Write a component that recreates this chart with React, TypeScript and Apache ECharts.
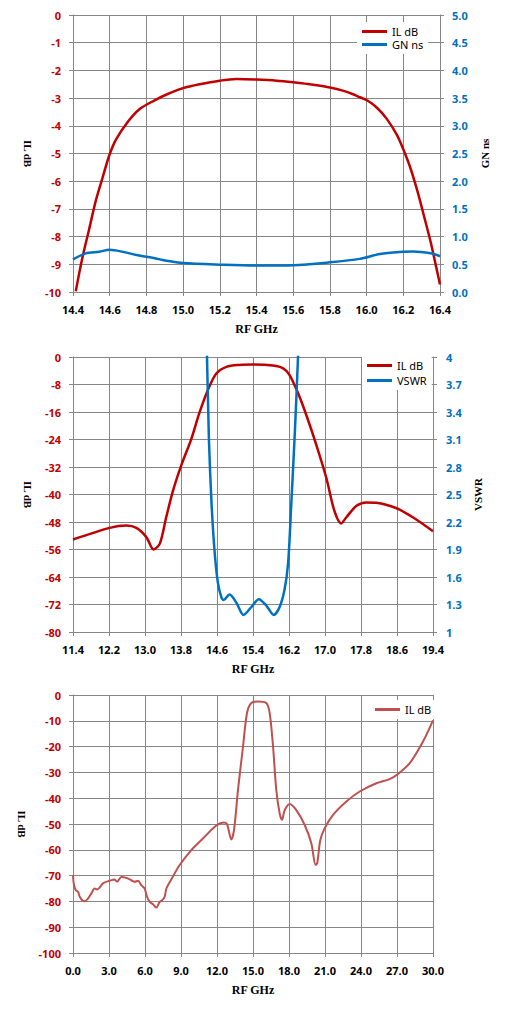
import React, { useEffect, useRef } from "react";
import * as echarts from "echarts";

// ---------- Chart 1 (passband zoom) ----------
const C1_IL_X = [14.415, 14.45, 14.487, 14.524, 14.56, 14.597, 14.634, 14.698, 14.762, 14.845, 14.91, 15.0, 15.09, 15.2, 15.29, 15.4, 15.51, 15.6, 15.71, 15.8, 15.87, 15.93, 15.963, 16.0, 16.055, 16.11, 16.165, 16.2, 16.24, 16.277, 16.314, 16.35, 16.377, 16.4];
const C1_IL_Y = [-9.97, -8.8, -7.76, -6.71, -5.9, -5.08, -4.5, -3.86, -3.4, -3.08, -2.87, -2.64, -2.5, -2.37, -2.31, -2.33, -2.37, -2.43, -2.52, -2.62, -2.73, -2.87, -2.97, -3.07, -3.34, -3.75, -4.33, -4.85, -5.55, -6.36, -7.29, -8.22, -9.03, -9.73];
const C1_GN_X = [14.4, 14.47, 14.543, 14.6, 14.67, 14.745, 14.845, 14.91, 15.0, 15.2, 15.4, 15.6, 15.8, 15.963, 16.073, 16.2, 16.253, 16.35, 16.4];
const C1_GN_Y = [0.588, 0.698, 0.727, 0.762, 0.727, 0.668, 0.61, 0.564, 0.523, 0.494, 0.477, 0.483, 0.535, 0.598, 0.686, 0.727, 0.733, 0.698, 0.646];

// ---------- Chart 2 (wide band) ----------
const C2_X_TICKS = [11.4, 12.2, 13.0, 13.8, 14.6, 15.4, 16.2, 17.0, 17.8, 18.6, 19.4];
const C2_VSWR_TICKS = [1, 1.3, 1.6, 1.9, 2.2, 2.5, 2.8, 3.1, 3.4, 3.7, 4];
const C2_IL_X = [11.4, 12.215, 12.585, 12.81, 13.03, 13.19, 13.33, 13.47, 13.62, 13.81, 14.03, 14.21, 14.4, 14.585, 14.81, 15.1, 15.4, 15.84, 16.07, 16.21, 16.4, 16.59, 16.81, 17.03, 17.21, 17.36, 17.47, 17.7, 17.92, 18.14, 18.59, 18.96, 19.4];
const C2_IL_Y = [-53.1, -49.7, -49.0, -49.7, -52.4, -56.0, -54.3, -46.7, -39.0, -31.4, -23.8, -16.2, -9.5, -4.8, -2.86, -2.3, -2.2, -2.5, -3.3, -5.2, -10.5, -17.1, -25.7, -35.2, -44.8, -48.4, -46.7, -43.3, -42.3, -42.4, -44.0, -46.7, -50.7];
const C2_VSWR_X = [14.34, 14.378, 14.42, 14.48, 14.55, 14.62, 14.70, 14.75, 14.88, 15.03, 15.19, 15.36, 15.53, 15.70, 15.86, 15.99, 16.10, 16.18, 16.25, 16.33, 16.40, 16.44];
const C2_VSWR_Y = [4.6, 4.0, 3.107, 2.39, 1.857, 1.536, 1.375, 1.35, 1.41, 1.32, 1.186, 1.27, 1.357, 1.286, 1.186, 1.27, 1.46, 1.75, 2.39, 3.18, 4.0, 4.6];

// ---------- Chart 3 (0-30 GHz) ----------
const C3_IL_X = [0, 0.06, 0.22, 0.42, 0.56, 0.83, 0.97, 1.25, 1.53, 1.8, 2.0, 2.22, 2.5, 3.05, 3.47, 3.67, 4.03, 4.44, 4.86, 5.14, 5.42, 5.69, 5.97, 6.17, 6.39, 6.67, 6.94, 7.22, 7.44, 7.64, 7.78, 8.19, 8.89, 9.86, 10.83, 11.94, 12.56, 12.83, 13.19, 13.42, 13.75, 14.17, 14.5, 14.86, 15.42, 16.11, 16.39, 16.67, 16.94, 17.22, 17.42, 17.64, 18.06, 18.61, 19.31, 19.86, 20.22, 20.36, 20.61, 20.97, 21.67, 22.78, 23.89, 25.28, 26.39, 27.08, 28.06, 29.17, 30];
const C3_IL_Y = [-69.8, -73, -75.6, -76.3, -78.2, -79.8, -79.9, -78.9, -76.9, -75, -75.4, -74.6, -73, -72, -71.5, -72.4, -70.5, -70.9, -71.8, -72.4, -72, -73.7, -75, -78.2, -80.2, -81.1, -82.4, -80.2, -79.5, -78.2, -75, -71.5, -65.9, -60.1, -55.6, -50.6, -49.4, -50, -56, -52.3, -36.8, -19.9, -7, -3.1, -2.5, -3.1, -7, -19.9, -36.8, -45.9, -48.4, -44.6, -42.2, -44.6, -50.4, -57.5, -65.9, -65, -56.2, -51.7, -46.5, -41.3, -37.4, -34.2, -32.6, -30.6, -26.4, -18, -9.8];

const zip = (xs: number[], ys: number[]) => xs.map((x, i) => [x, ys[i]]);

const GRID_COLOR = "#868686";
const LABEL_FONT = "'Noto Sans', sans-serif";
const NAME_FONT = "'Liberation Serif', serif";
const RED = "#C00000";
const BLUE = "#0070C0";

const tickLabel = (color: string, margin: number, extra: any = {}) => ({
  color,
  fontFamily: LABEL_FONT,
  fontWeight: "bold",
  fontSize: 11,
  margin,
  showMinLabel: true,
  showMaxLabel: true,
  ...extra,
});

const axisLine = { show: true, onZero: false, lineStyle: { color: GRID_COLOR, width: 1 } };
const axisTick = (extra: any = {}) => ({ show: true, length: 4, inside: false, lineStyle: { color: GRID_COLOR }, ...extra });
const split = { show: true, lineStyle: { color: GRID_COLOR, width: 1 } };
const nameStyle = (size: number) => ({ fontFamily: NAME_FONT, fontWeight: "bold", fontSize: size, color: "#000" });

const xName = { name: "RF GHz", nameLocation: "middle", nameGap: 31, nameTextStyle: nameStyle(12) };

const legendBase = {
  orient: "vertical",
  icon: "rect",
  itemWidth: 25,
  itemHeight: 3,
  backgroundColor: "#fff",
  textStyle: { fontFamily: LABEL_FONT, fontSize: 11, color: "#000" },
};

const lineSeries = (name: string, data: number[][], color: string, width: number, yAxisIndex = 0) => ({
  name,
  type: "line",
  yAxisIndex,
  data,
  smooth: 0.3,
  symbol: "none",
  clip: true,
  lineStyle: { color, width },
  itemStyle: { color },
});

const option1 = {
  animation: false,
  grid: { left: 73, right: 69, top: 15, bottom: 39 },
  legend: { ...legendBase, left: 357, top: 22, itemGap: 2, padding: [4, 5, 4, 5], data: ["IL dB", "GN ns"] },
  xAxis: {
    type: "value", min: 14.4, max: 16.4, interval: 0.2,
    axisLabel: tickLabel("#000", 12, { formatter: (v: number) => v.toFixed(1) }),
    axisTick: axisTick(), axisLine, splitLine: split, ...xName,
  },
  yAxis: [
    {
      type: "value", min: -10, max: 0, interval: 1, position: "left",
      axisLabel: tickLabel(RED, 12), axisTick: axisTick(), axisLine, splitLine: split,
      name: "IL dB", nameLocation: "middle", nameRotate: -90, nameGap: 35, nameTextStyle: nameStyle(11),
    },
    {
      type: "value", min: 0, max: 5, interval: 0.5, position: "right",
      axisLabel: tickLabel(BLUE, 12, { formatter: (v: number) => v.toFixed(1) }),
      axisTick: axisTick(), axisLine, splitLine: { show: false },
      name: "GN ns", nameLocation: "middle", nameRotate: 90, nameGap: 39, nameTextStyle: nameStyle(11),
    },
  ],
  series: [
    lineSeries("IL dB", zip(C1_IL_X, C1_IL_Y), RED, 2.5, 0),
    lineSeries("GN ns", zip(C1_GN_X, C1_GN_Y), BLUE, 2.5, 1),
  ],
};

const option2 = {
  animation: false,
  grid: { left: 73, right: 76, top: 17, bottom: 43 },
  legend: { ...legendBase, left: 362, top: 16, itemGap: 4, padding: [4, 5, 4, 5], data: ["IL dB", "VSWR"] },
  xAxis: {
    type: "value", min: 11.4, max: 19.4,
    axisLabel: tickLabel("#000", 12, { customValues: C2_X_TICKS, formatter: (v: number) => v.toFixed(1) }),
    axisTick: axisTick({ customValues: C2_X_TICKS }), axisLine, splitLine: split, ...xName,
  },
  yAxis: [
    {
      type: "value", min: -80, max: 0, interval: 8, position: "left",
      axisLabel: tickLabel(RED, 12), axisTick: axisTick(), axisLine, splitLine: split,
      name: "IL dB", nameLocation: "middle", nameRotate: -90, nameGap: 35, nameTextStyle: nameStyle(11),
    },
    {
      type: "value", min: 1, max: 4, position: "right",
      axisLabel: tickLabel(BLUE, 13, { customValues: C2_VSWR_TICKS, formatter: (v: number) => String(v) }),
      axisTick: axisTick({ customValues: C2_VSWR_TICKS }), axisLine, splitLine: { show: false },
      name: "VSWR", nameLocation: "middle", nameRotate: 90, nameGap: 38, nameTextStyle: nameStyle(11),
    },
  ],
  series: [
    lineSeries("IL dB", zip(C2_IL_X, C2_IL_Y), RED, 2.5, 0),
    lineSeries("VSWR", zip(C2_VSWR_X, C2_VSWR_Y), BLUE, 2.5, 1),
  ],
};

const C3_COLOR = "#C0504D";
const option3 = {
  animation: false,
  grid: { left: 73, right: 76, top: 15, bottom: 62 },
  legend: { ...legendBase, left: 370, top: 20, padding: [4, 5, 4, 5], data: ["IL dB"] },
  xAxis: {
    type: "value", min: 0, max: 30, interval: 3,
    axisLabel: tickLabel("#000", 12, { formatter: (v: number) => v.toFixed(1) }),
    axisTick: axisTick(), axisLine, splitLine: split, ...xName,
  },
  yAxis: {
    type: "value", min: -100, max: 0, interval: 10,
    axisLabel: tickLabel(RED, 12), axisTick: axisTick(), axisLine, splitLine: split,
    name: "IL dB", nameLocation: "middle", nameRotate: -90, nameGap: 44, nameTextStyle: nameStyle(11),
  },
  series: [lineSeries("IL dB", zip(C3_IL_X, C3_IL_Y), C3_COLOR, 2)],
};

function Chart({ option, top, height }: { option: any; top: number; height: number }) {
  const ref = useRef<HTMLDivElement>(null);
  useEffect(() => {
    if (!ref.current) return;
    const chart = echarts.init(ref.current, undefined, { renderer: "svg" });
    chart.setOption(option);
    return () => chart.dispose();
  }, [option]);
  return <div ref={ref} style={{ position: "absolute", left: 0, top, width: 509, height }} />;
}

export default function App() {
  return (
    <div style={{ position: "absolute", left: 0, top: 0, width: 509, height: 1015, background: "#fff" }}>
      <Chart option={option1} top={0} height={340} />
      <Chart option={option2} top={340} height={340} />
      <Chart option={option3} top={680} height={335} />
    </div>
  );
}
